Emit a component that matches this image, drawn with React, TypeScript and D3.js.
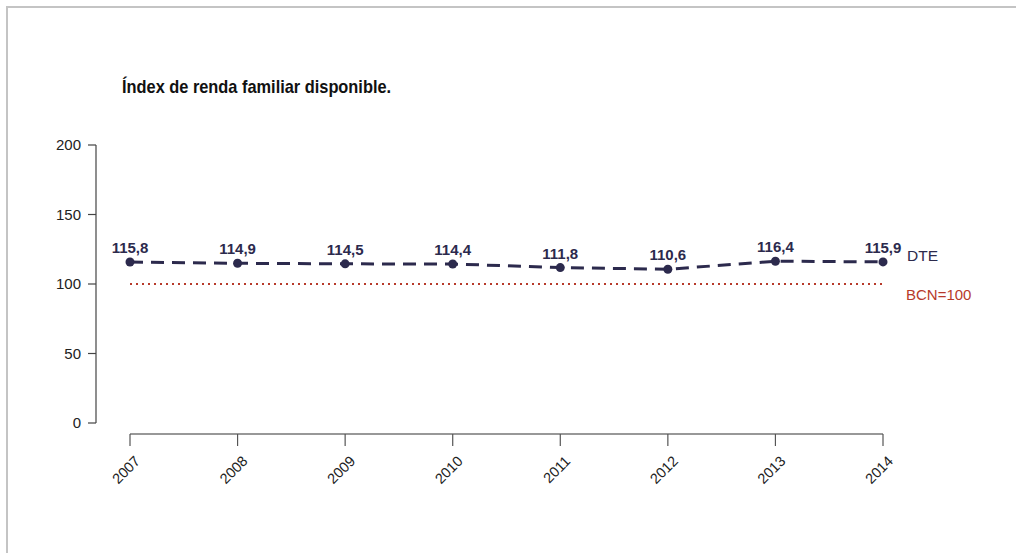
import React from "react";
import * as d3 from "d3";

const years = ["2007", "2008", "2009", "2010", "2011", "2012", "2013", "2014"];
const dteValues = [115.8, 114.9, 114.5, 114.4, 111.8, 110.6, 116.4, 115.9];
const bcnValue = 100;
const yTicks = [0, 50, 100, 150, 200];
const title = "Índex de renda familiar disponible.";

const W = 1016;
const H = 553;
const FONT = "'Liberation Sans', Arial, sans-serif";
const NAVY = "#2c2a4d";
const RED = "#b73a2b";

export default function App() {
  const x = d3.scalePoint<string>().domain(years).range([130, 883]);
  const y = d3.scaleLinear().domain([0, 200]).range([423, 145]);
  const line = d3
    .line<number>()
    .x((_, i) => x(years[i]) as number)
    .y((d) => y(d));
  const fmt = (v: number) => v.toFixed(1).replace(".", ",");
  const x0 = x(years[0]) as number;
  const x1 = x(years[years.length - 1]) as number;

  return (
    <svg
      width={W}
      height={H}
      style={{ position: "absolute", left: 0, top: 0, display: "block" }}
      fontFamily={FONT}
    >
      <rect x={0} y={0} width={W} height={H} fill="#fff" />
      {/* frame */}
      <line x1={7} y1={7} x2={W} y2={7} stroke="#c4c4c4" strokeWidth={2} />
      <line x1={7} y1={6} x2={7} y2={H} stroke="#c4c4c4" strokeWidth={2} />

      <text
        transform="translate(122,93) scale(0.91,1)"
        fontSize={18}
        fontWeight="bold"
        fill="#111"
      >
        {title}
      </text>

      {/* y axis */}
      <line x1={96} y1={y(200)} x2={96} y2={y(0)} stroke="#444" strokeWidth={1.2} />
      {yTicks.map((t) => (
        <g key={t}>
          <line x1={88} y1={y(t)} x2={96} y2={y(t)} stroke="#444" strokeWidth={1.2} />
          <text x={81} y={y(t)} dy="0.36em" textAnchor="end" fontSize={15} fill="#222">
            {t}
          </text>
        </g>
      ))}

      {/* x axis */}
      <line x1={x0} y1={434} x2={x1} y2={434} stroke="#333" strokeWidth={1.2} />
      {years.map((yr) => {
        const px = x(yr) as number;
        return (
          <g key={yr}>
            <line x1={px} y1={434} x2={px} y2={446} stroke="#555" strokeWidth={1.2} />
            <text
              transform={`translate(${px + 11},${462}) rotate(-45)`}
              textAnchor="end"
              fontSize={14.5}
              fill="#222"
            >
              {yr}
            </text>
          </g>
        );
      })}

      {/* BCN reference */}
      <line
        x1={x0}
        y1={y(bcnValue)}
        x2={x1}
        y2={y(bcnValue)}
        stroke={RED}
        strokeWidth={2}
        strokeDasharray="2,4"
      />
      <text x={906} y={y(bcnValue) + 11} dy="0.36em" fontSize={15} fill={RED}>
        BCN=100
      </text>

      {/* DTE series */}
      <path
        d={line(dteValues) || ""}
        fill="none"
        stroke={NAVY}
        strokeWidth={3}
        strokeDasharray="13,8"
      />
      {dteValues.map((v, i) => (
        <g key={i}>
          <circle cx={x(years[i]) as number} cy={y(v)} r={4.5} fill={NAVY} />
          <text
            x={x(years[i]) as number}
            y={y(v) - 9}
            textAnchor="middle"
            fontSize={15}
            fontWeight="bold"
            fill={NAVY}
          >
            {fmt(v)}
          </text>
        </g>
      ))}
      <text x={907} y={y(dteValues[dteValues.length - 1]) - 6} dy="0.36em" fontSize={15.5} fill={NAVY}>
        DTE
      </text>
    </svg>
  );
}
